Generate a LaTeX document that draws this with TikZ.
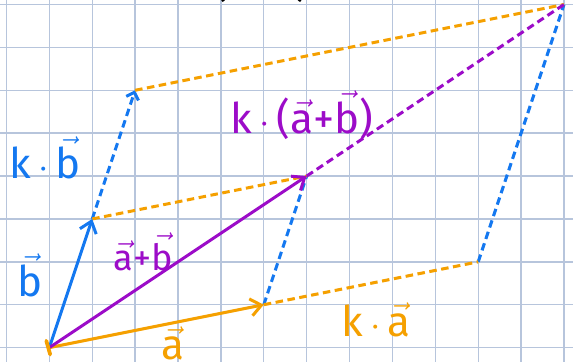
\documentclass[tikz,border=0pt]{standalone}
\usepackage{fontspec}
\setsansfont{Fira Sans}
\usetikzlibrary{arrows.meta}
\definecolor{vblue}{HTML}{1478F0}
\definecolor{vorange}{HTML}{F5A000}
\definecolor{vpurple}{HTML}{9C0CC8}
\definecolor{gridc}{HTML}{B7C5DC}
\newcommand\vv[1]{$\vec{\mbox{#1}}$}

\begin{document}
\begin{tikzpicture}[x=1cm,y=1cm,font=\sffamily\fontsize{28}{30}\selectfont,
      vec/.style={line width=2pt,-{Straight Barb[length=2.5mm,width=4mm]}},
      aux/.style={line width=2pt,dash pattern=on 5pt off 3pt},
      lab/.style={inner sep=1pt}]
    \useasboundingbox (-1.15,-0.333) rectangle (12.21,8.105);
    \foreach \x in {-1,...,12}
      \draw[gridc,line width=0.9pt] (\x,-0.333) -- (\x,8.105);
    \foreach \y in {0,...,8}
      \draw[gridc,line width=0.9pt] (-1.15,\y) -- (12.21,\y);
    \coordinate (o) at (0,0);
    \coordinate (a) at (5,1);
    \coordinate (b) at (1,3);
    \coordinate (ab) at (6,4);
    \coordinate (ka) at (10,2);
    \coordinate (kb) at (2,6);
    \coordinate (kab) at (12,8);
    \draw[aux,vblue,-{Straight Barb[length=1.5mm,width=3mm]}] (b) -- (kb);
    \draw[aux,vblue] (a) -- (ab);
    \draw[aux,vblue] (ka) -- (kab);
    \draw[aux,vorange] (b) -- (ab);
    \draw[aux,vorange] (a) -- (ka);
    \draw[aux,vorange] (kb) -- (kab);
    \draw[aux,vpurple] (ab) -- (kab);
    \draw[vec,vorange] (o) -- (a);
    \draw[vec,vblue] (o) -- (b);
    \draw[vec,vpurple] (o) -- (ab);
    \draw[vorange,line width=2.5pt,line cap=round] (o) ++(-0.07,0.16) -- ++(0.09,-0.32);
    \node[lab,vblue] (kbl) at (-0.1,4.42) {k\,$\cdot$\,\vv{b}};
    \node[lab,vblue] (bl) at (-0.45,1.69) {\vv{b}};
    \node[lab,vpurple,font=\sffamily\fontsize{24}{26}\selectfont] (abl) at (2.19,2.23) {\vv{a}+\vv{b}};
    \node[lab,vorange] (al) at (2.88,0.1) {\vv{a}};
    \node[lab,vorange] (kal) at (7.62,0.64) {k\,$\cdot$\,\vv{a}};
    \node[lab,vpurple] (kabl) at (5.89,5.42) {k\,$\cdot$\,(\vv{a}+\vv{b})};
    \node[anchor=base,black] (title) at (6.9,8.175) {k$\cdot$(\vv{a}+\vv{b}) = k$\cdot$\vv{a} + k$\cdot$\vv{b}};
\end{tikzpicture}
\end{document}
